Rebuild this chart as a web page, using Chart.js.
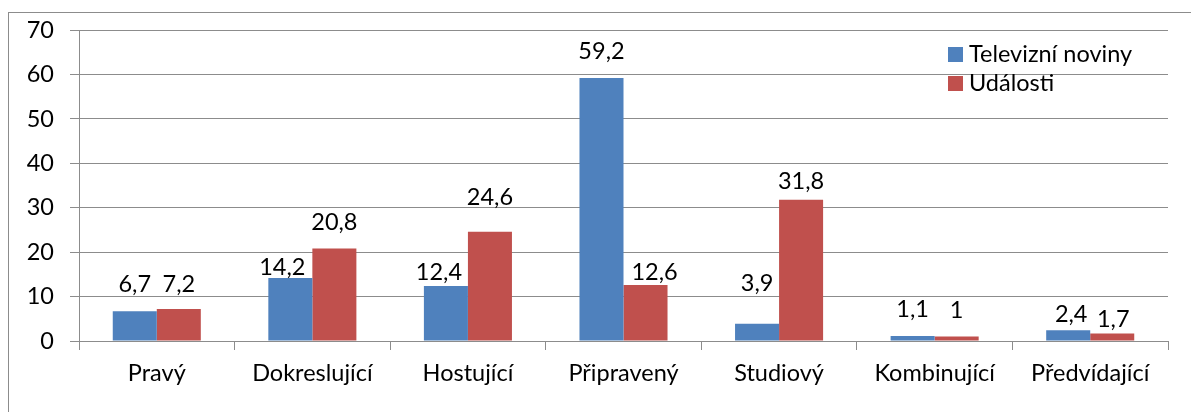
<!DOCTYPE html>
<html><head><meta charset="utf-8">
<script src="https://cdn.jsdelivr.net/npm/chart.js@4/dist/chart.umd.min.js"></script>
<style>html,body{margin:0;padding:0;background:#fff}#w{width:1191px;height:412px;position:relative}</style>
</head><body><div id="w"><canvas id="c"></canvas></div>
<script>
const categories = ["Pravý","Dokreslující","Hostující","Připravený","Studiový","Kombinující","Předvídající"];
const seriesNames = ["Televizní noviny","Události"];
const televizniNoviny = [6.7,14.2,12.4,59.2,3.9,1.1,2.4];
const udalosti = [7.2,20.8,24.6,12.6,31.8,1,1.7];
const yTicks = [0,10,20,30,40,50,60,70];

const FONT = "Lato, 'Open Sans', sans-serif";
const FS = 23.5;
const colors = ["#4F81BD","#C0504D"];
const gridCol = "#8C8C8C";

const fmt = v => String(v).replace('.', ',');

const extras = {
  id: 'extras',
  beforeDraw(chart) {
    const ctx = chart.ctx;
    ctx.save();
    ctx.strokeStyle = "#8C8C8C";
    ctx.lineWidth = 1;
    ctx.strokeRect(8.5, 12.5, 1200, 420);
    ctx.restore();
  },
  afterDatasetsDraw(chart, args, opts) {
    const ctx = chart.ctx;
    ctx.save();
    ctx.font = FS + "px " + FONT;
    ctx.fillStyle = "#000";
    ctx.textAlign = "center";
    ctx.textBaseline = "alphabetic";
    chart.data.datasets.forEach((ds, i) => {
      const meta = chart.getDatasetMeta(i);
      meta.data.forEach((bar, j) => {
        const p = opts.placement[i][j];
        ctx.fillText(fmt(ds.data[j]), bar.x + p[0], bar.y - p[1]);
      });
    });
    // legend
    ctx.textAlign = "left";
    const lx = 948, ly = [62, 91];
    seriesNames.forEach((n, i) => {
      ctx.fillStyle = colors[i];
      ctx.fillRect(lx, ly[i] - 15, 15, 15);
      ctx.fillStyle = "#000";
      ctx.fillText(n, lx + 21, ly[i]);
    });
    ctx.restore();
  }
};

new Chart(document.getElementById('c'), {
  type: 'bar',
  data: {
    labels: categories,
    datasets: [
      {label: seriesNames[0], data: televizniNoviny, backgroundColor: colors[0]},
      {label: seriesNames[1], data: udalosti, backgroundColor: colors[1]}
    ]
  },
  options: {
    responsive: true,
    maintainAspectRatio: false,
    animation: false,
    devicePixelRatio: 1,
    layout: {padding: {left: 0, top: 28, right: 23, bottom: 0}},
    datasets: {bar: {categoryPercentage: 0.566, barPercentage: 1.0}},
    plugins: {
      legend: {display: false}, tooltip: {enabled: false},
      extras: {
        // [horizontal shift, baseline distance above bar top] for each label
        placement: [
          [[0,19],[-8,3],[-7,6],[0,19],[0,33],[0,19],[3,8]],
          [[0,17],[0,19],[0,27],[9,5],[0,11],[0,19],[1,6]]
        ]
      }
    },
    scales: {
      x: {
        grid: {display: true, drawOnChartArea: false, offset: true, color: gridCol, tickLength: 9, tickColor: gridCol},
        border: {color: gridCol, width: 1},
        ticks: {color: "#000", font: {family: FONT, size: FS}, padding: 9},
        afterFit(s) { s.height = 71; }
      },
      y: {
        min: 0, max: 70,
        afterBuildTicks(s) { s.ticks = yTicks.map(v => ({value: v})); },
        grid: {color: gridCol, tickLength: 9, tickColor: gridCol},
        border: {color: gridCol, width: 1},
        ticks: {color: "#000", font: {family: FONT, size: FS}, padding: 16},
        afterFit(s) { s.width = 79; }
      }
    }
  },
  plugins: [extras]
});
</script>
</body></html>
